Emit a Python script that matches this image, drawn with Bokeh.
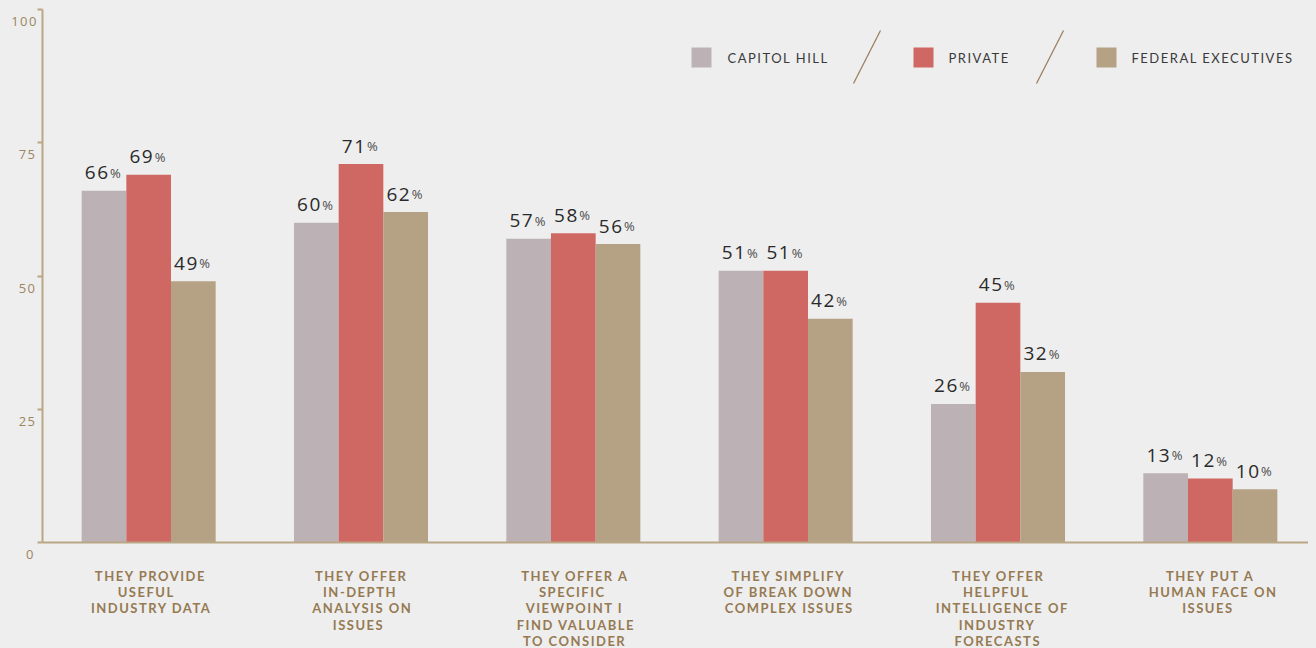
from bokeh.plotting import figure
from bokeh.models import (ColumnDataSource, FixedTicker, InlineStyleSheet, Range1d, LinearAxis, Span)
from bokeh.core.properties import value
from bokeh.transform import dodge
from bokeh.embed import file_html
from bokeh.resources import INLINE

# ---- data ----
categories = [
    "THEY PROVIDE\nUSEFUL\nINDUSTRY DATA",
    "THEY OFFER\nIN-DEPTH\nANALYSIS ON\nISSUES",
    "THEY OFFER A\nSPECIFIC\nVIEWPOINT I\nFIND VALUABLE\nTO CONSIDER",
    "THEY SIMPLIFY\nOF BREAK DOWN\nCOMPLEX ISSUES",
    "THEY OFFER\nHELPFUL\nINTELLIGENCE OF\nINDUSTRY\nFORECASTS",
    "THEY PUT A\nHUMAN FACE ON\nISSUES",
]
series = ["CAPITOL HILL", "PRIVATE", "FEDERAL EXECUTIVES"]
capitol_hill = [66, 60, 57, 51, 26, 13]
private = [69, 71, 58, 51, 45, 12]
federal_executives = [49, 62, 56, 42, 32, 10]
y_ticks = [0, 25, 50, 75, 100]

# ---- style ----
BG = "#eeeeee"
COLORS = ["#bcb1b4", "#cf6762", "#b5a285"]
AXIS = "#b9a684"
TICK_TXT = "#9c8661"
CAT_TXT = "#957a52"
NUM_TXT = "#2a2a2a"
LETTER_SPACING = 1.5

W, H = 1308, 646
ML, MR, MT, MB = 34, 0, 1, 96
Y0, Y1 = -3, 100          # frame reaches a little below zero so the "0" label fits
N = len(categories)
cat_pos = [i + 0.5 for i in range(N)]   # centre of each category slot

p = figure(x_range=Range1d(0, N), y_range=Range1d(Y0, Y1), width=W, height=H,
           output_backend="svg", toolbar_location=None,
           min_border_left=ML, min_border_right=MR, min_border_top=MT, min_border_bottom=MB)
p.background_fill_color = BG
p.border_fill_color = BG
p.outline_line_color = None
p.xgrid.grid_line_color = None
p.ygrid.grid_line_color = None

px_per_cat = (W - ML - MR) / N
px_per_unit = (H - MT - MB) / (Y1 - Y0)

# y axis: line + ticks from 0 to 100
p.yaxis.bounds = (0, 100)
p.yaxis.ticker = FixedTicker(ticks=y_ticks)
p.yaxis.axis_line_color = AXIS
p.yaxis.axis_line_width = 2
p.yaxis.major_tick_line_color = AXIS
p.yaxis.major_tick_line_width = 2
p.yaxis.major_tick_out = 5
p.yaxis.major_tick_in = 0
p.yaxis.minor_tick_line_color = None
p.yaxis.major_label_standoff = 0
p.yaxis.major_label_overrides = {t: "" for t in y_ticks}

# y tick labels sit just below each tick in the reference
lab_off = 12 / px_per_unit
ylab = LinearAxis(ticker=FixedTicker(ticks=[t - lab_off for t in y_ticks]),
                  major_label_overrides={t - lab_off: str(t) for t in y_ticks},
                  axis_line_color=None, major_tick_line_color=None, minor_tick_line_color=None,
                  major_tick_out=0, major_tick_in=0, major_label_standoff=4,
                  major_label_text_font="Open Sans", major_label_text_font_size="13px",
                  major_label_text_color=TICK_TXT)
p.add_layout(ylab, "left")

# baseline at y = 0
p.add_layout(Span(location=0, dimension="width", line_color=AXIS, line_width=2))

# x axis: category labels
p.xaxis.visible = False
shift = 7 / px_per_cat   # compensates the letter-spacing drift of centred labels
p.extra_x_ranges = {"lab": Range1d(shift, N + shift)}
xlab = LinearAxis(x_range_name="lab",
                  ticker=FixedTicker(ticks=cat_pos),
                  major_label_overrides={x: c for x, c in zip(cat_pos, categories)},
                  axis_line_color=None,
                  major_tick_line_color=None, minor_tick_line_color=None,
                  major_tick_out=0, major_tick_in=0, major_label_standoff=9,
                  major_label_text_font="Lato", major_label_text_font_style="bold",
                  major_label_text_font_size="13px", major_label_text_color=CAT_TXT,
                  major_label_text_line_height=1.03)
p.add_layout(xlab, "below")

src = ColumnDataSource(dict(
    x=cat_pos, cat=categories,
    ch=capitol_hill, pr=private, fe=federal_executives,
    ch_t=[str(v) for v in capitol_hill],
    pr_t=[str(v) for v in private],
    fe_t=[str(v) for v in federal_executives],
))

bar_w = 0.2104
for key, off, col in zip(["ch", "pr", "fe"], [-bar_w, 0.0, bar_w], COLORS):
    xs = dodge("x", off)
    p.vbar(x=xs, top=key, bottom=0, width=bar_w, source=src, fill_color=col, line_color=None)
    p.text(x=xs, y=key, text=key + "_t", source=src, text_align="right", text_baseline="alphabetic",
           x_offset=2.5, y_offset=-18, text_font=value("Open Sans"), text_font_size="19px",
           text_color=NUM_TXT)
    p.text(x=xs, y=key, text=value("%"), source=src, text_align="left", text_baseline="alphabetic",
           x_offset=6, y_offset=-18, text_font=value("Open Sans"), text_font_size="13px",
           text_color="#4a4a4a")

# ---- legend (drawn manually with slashes between items) ----
fx0 = 8 + ML
fy0 = 8 + H - MB

def sx(px):
    return (px - fx0) / px_per_cat

def sy(py):
    return Y0 + (fy0 - py) / px_per_unit

leg_sq_x = [701, 923, 1106]
leg_tx_x = [727, 948, 1131]
leg_y = 57
p.rect(x=[sx(v) for v in leg_sq_x], y=[sy(leg_y)] * 3, width=20, height=20,
       width_units="screen", height_units="screen", fill_color=COLORS, line_color=None)
p.text(x=[sx(v) for v in leg_tx_x], y=[sy(leg_y)] * 3, text=series, text_align="left",
       text_baseline="middle", text_font=value("Lato"), text_font_size="13px", text_color="#3a3a3a")
p.segment(x0=[sx(853), sx(1036)], y0=[sy(83)] * 2, x1=[sx(880), sx(1063)], y1=[sy(30)] * 2,
          line_color="#9a8160", line_width=1.3)

# letter-spaced typography, as in the reference
p.stylesheets = [InlineStyleSheet(css=":host { letter-spacing: %spx; }" % LETTER_SPACING)]

html = file_html(p, INLINE)
html = html.replace("<body>", '<body style="margin:8px;background-color:#eeeeee;overflow:hidden;">')
open("out.html", "w").write(html)
